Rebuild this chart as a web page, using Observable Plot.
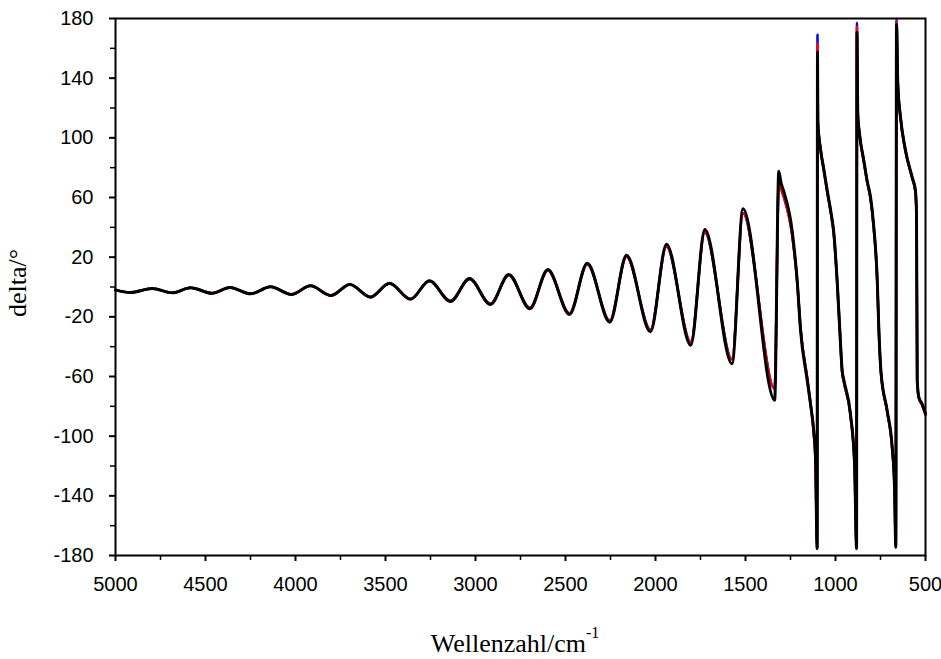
<!DOCTYPE html>
<html>
<head>
<meta charset="utf-8">
<script src="https://cdn.jsdelivr.net/npm/d3@7"></script>
<script src="https://cdn.jsdelivr.net/npm/@observablehq/plot@0.6"></script>
<style>
  html, body { margin: 0; padding: 0; background: #fff; }
  #chart { width: 941px; height: 659px; }
</style>
</head>
<body>
<div id="chart"></div>
<script>
// Wavenumber (cm^-1)
const wavenumber = [5000, 4917, 4796, 4685, 4583, 4463, 4365, 4250, 4139, 4022,
  3917, 3802, 3698, 3583, 3478, 3361, 3256, 3139, 3033, 2917,
  2815, 2698, 2598, 2478, 2379, 2254, 2161, 2028, 1939, 1804,
  1726, 1575, 1514, 1338, 1315, 1303, 1289, 1241, 1213, 1194,
  1157, 1139, 1121, 1111, 1102, 1100, 1098, 1083, 1065, 1045,
  1025, 1009, 991, 976, 963, 953, 917, 894, 883, 881,
  876, 867, 843, 824, 805, 787, 768, 759, 747, 713,
  685, 672, 665, 661, 654, 639, 611, 574, 556, 550,
  546, 537, 519, 500];

// delta (degrees), black series
const deltaBlack = [-1.9, -3.7, -1.0, -3.9, -0.5, -4.2, -0.3, -4.6, 0.1, -5.0,
  0.8, -5.7, 1.7, -6.8, 2.5, -8.2, 4.2, -9.7, 5.7, -11.7,
  8.4, -14.6, 11.7, -18.4, 16.0, -23.6, 21.3, -30.0, 28.7, -39.0,
  38.5, -51.5, 52.4, -75.9, 77.6, 70.0, 64.7, 37.9, 4.4, -29.2,
  -62.7, -78.3, -96.2, -114.1, -175.5, 157.4, 110.0, 92.0, 79.0, 64.0,
  50.0, 36.0, 4.4, -29.2, -56.0, -62.7, -85.0, -118.5, -175.5, 170.8,
  115.0, 103.0, 85.0, 71.0, 60.0, 40.0, 4.4, -29.2, -57.3, -82.8,
  -107.4, -134.2, -174.4, 176.0, 136.2, 113.8, 91.5, 73.6, 64.7, 49.3,
  -62.7, -73.9, -78.3, -85.0];

// delta (degrees), red series
const deltaRed = [-1.9, -3.7, -1.0, -3.9, -0.5, -4.2, -0.3, -4.6, 0.1, -5.0,
  0.8, -5.7, 1.6, -6.7, 2.4, -8.0, 4.0, -9.4, 5.4, -11.3,
  7.9, -14.0, 11.0, -17.6, 15.2, -22.6, 20.3, -28.6, 27.2, -37.0,
  36.5, -48.5, 49.5, -68.3, 70.3, 66.0, 61.0, 35.0, 4.0, -28.0,
  -61.0, -78.0, -98.0, -118.0, -175.0, 163.0, 111.0, 92.5, 78.5, 63.0,
  49.0, 35.0, 4.0, -29.0, -57.0, -64.0, -86.0, -120.0, -175.0, 174.6,
  116.0, 103.0, 84.5, 70.5, 59.0, 39.0, 4.0, -29.0, -58.0, -83.5,
  -108.5, -135.0, -174.0, 178.2, 137.0, 114.0, 91.0, 73.0, 64.0, 48.0,
  -63.0, -74.5, -79.0, -85.5];

// delta (degrees), blue series
const deltaBlue = [-1.9, -3.7, -1.0, -3.9, -0.5, -4.2, -0.3, -4.6, 0.1, -5.0,
  0.8, -5.7, 1.6, -6.7, 2.4, -8.0, 4.0, -9.4, 5.4, -11.3,
  7.9, -14.0, 11.0, -17.6, 15.2, -22.6, 20.3, -28.6, 27.2, -37.0,
  36.5, -48.5, 49.5, -68.3, 70.3, 66.0, 61.0, 35.0, 4.0, -28.0,
  -61.0, -78.0, -98.0, -118.0, -175.0, 169.1, 111.0, 92.5, 78.5, 63.0,
  49.0, 35.0, 4.0, -29.0, -57.0, -64.0, -86.0, -120.0, -175.0, 177.1,
  116.0, 103.0, 84.5, 70.5, 59.0, 39.0, 4.0, -29.0, -58.0, -83.5,
  -108.5, -135.0, -174.0, 179.8, 137.0, 114.0, 91.0, 73.0, 64.0, 48.0,
  -63.0, -74.5, -79.0, -85.5];

const xTicks = [5000, 4500, 4000, 3500, 3000, 2500, 2000, 1500, 1000, 500];
const xMinorTicks = [4750, 4250, 3750, 3250, 2750, 2250, 1750, 1250, 750];
const yTicks = [-180, -140, -100, -60, -20, 20, 60, 100, 140, 180];
const yMinorTicks = [-160, -120, -80, -40, 0, 40, 80, 120, 160];

const rows = wavenumber.map((w, i) => ({
  w, black: deltaBlack[i], red: deltaRed[i], blue: deltaBlue[i]
}));

const fmt = d => String(d);

const chart = Plot.plot({
  width: 941,
  height: 659,
  marginLeft: 115,
  marginRight: 16,
  marginTop: 18,
  marginBottom: 104,
  x: {type: "linear", domain: [5000, 500]},
  y: {type: "linear", domain: [-180, 180]},
  style: {fontFamily: "'Liberation Sans', Arial, sans-serif", fontSize: "20px", background: "#fff", color: "#000"},
  marks: [
    Plot.line(rows, {x: "w", y: "blue", stroke: "#0000ff", strokeWidth: 2.5, curve: "monotone-x"}),
    Plot.line(rows, {x: "w", y: "red", stroke: "#ff0000", strokeWidth: 2.5, curve: "monotone-x"}),
    Plot.line(rows, {x: "w", y: "black", stroke: "#000000", strokeWidth: 3, curve: "monotone-x"}),
    Plot.axisX(xTicks, {tickSize: 6, tickPadding: 15, strokeWidth: 2, fontSize: 20, tickFormat: fmt, label: null}),
    Plot.axisX(xMinorTicks, {tickSize: 5, strokeWidth: 1.5, tickFormat: () => "", label: null}),
    Plot.axisY(yTicks, {tickSize: 6, tickPadding: 16, strokeWidth: 2, fontSize: 20, tickFormat: fmt, label: null}),
    Plot.axisY(yMinorTicks, {tickSize: 5, strokeWidth: 1.5, tickFormat: () => "", label: null}),
    Plot.frame({stroke: "#000", strokeWidth: 2})
  ]
});

const svg = d3.select(chart);
svg.append("text")
  .attr("transform", "translate(26,283) rotate(-90)")
  .attr("text-anchor", "middle")
  .attr("font-family", "'Liberation Serif', 'Times New Roman', serif")
  .attr("font-size", 26)
  .attr("fill", "#000")
  .text("delta/°");

const xt = svg.append("text")
  .attr("x", 515)
  .attr("y", 652)
  .attr("text-anchor", "middle")
  .attr("font-family", "'Liberation Serif', 'Times New Roman', serif")
  .attr("font-size", 26)
  .attr("fill", "#000");
xt.append("tspan").text("Wellenzahl/cm");
xt.append("tspan").attr("dy", -14).attr("font-size", 16).text("-1");

document.getElementById("chart").appendChild(chart);
</script>
</body>
</html>
